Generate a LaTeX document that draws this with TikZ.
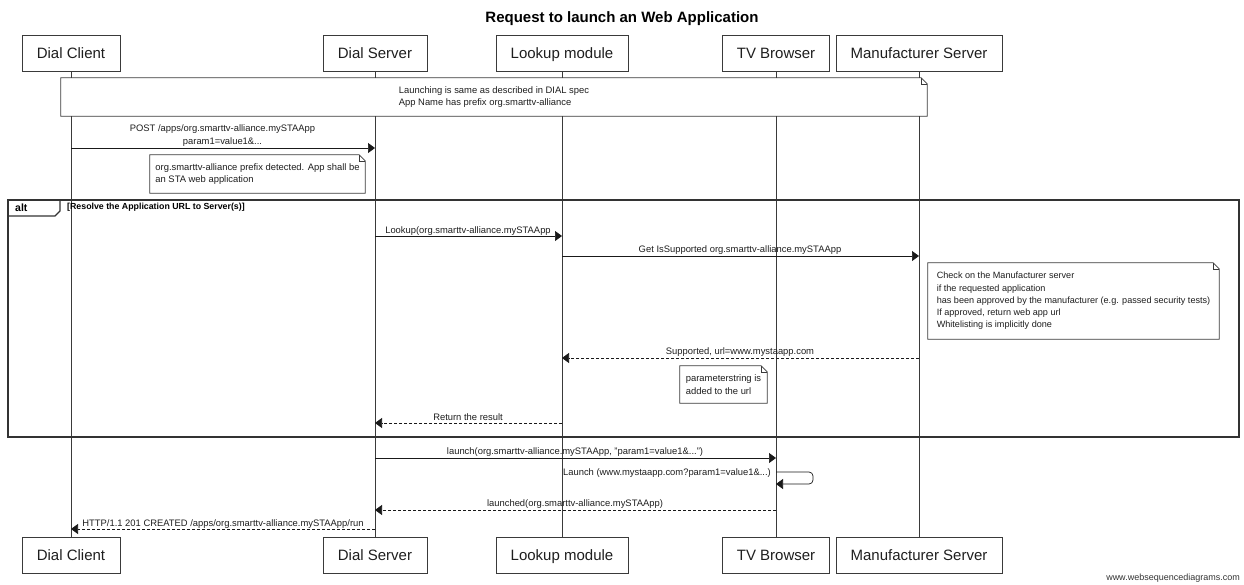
\documentclass[tikz,border=0pt]{standalone}
\usepackage{fontspec}
\setmainfont{Liberation Sans}
\usetikzlibrary{arrows.meta,calc}
\definecolor{ln}{HTML}{3A3A3A}
\definecolor{tx}{HTML}{1E1E1E}
\tikzset{
  actor/.style={draw=ln, line width=0.9pt, minimum height=36pt, inner sep=0pt,
    text height=13.5pt, text depth=2pt,
    font=\fontsize{15}{17}\selectfont, text=tx},
  life/.style={draw=ln, line width=0.8pt},
  msg/.style={draw=black!90, line width=0.7pt, -{Triangle[length=7pt,width=10pt]}},
  reply/.style={msg, dash pattern=on 3pt off 2pt},
  lbl/.style={font=\fontsize{9.4}{10}\selectfont, inner sep=0pt, text=tx},
  notebox/.style={fill=white, inner sep=0pt, align=left,
    font=\fontsize{9.4}{12.6}\selectfont, text=tx},
  noteline/.style={draw=ln, line width=0.8pt},
  frameline/.style={draw=black!80, line width=1.6pt},
  titlestyle/.style={font=\bfseries\fontsize{15}{17}\selectfont, text=black},
}
\newcommand\drawnote[1]{%
  \draw[noteline] (#1.south west) -- (#1.south east) -- ($(#1.north east)+(0,6)$)
    -- ($(#1.north east)+(-6,0)$) -- (#1.north west) -- cycle;
  \draw[draw=ln, line width=0.6pt] ($(#1.north east)+(-6,0)$) -- ($(#1.north east)+(-6,6)$) -- ($(#1.north east)+(0,6)$);}
\begin{document}
\begin{tikzpicture}[x=1pt,y=-1pt]
\useasboundingbox (0,0) rectangle (1244,584);
\node[titlestyle] (title) at (622,19) {Request to launch an Web Application};
% actors top
\node[actor, minimum width=98pt] (dcT) at (71,53) {Dial Client};
\node[actor, minimum width=104pt] (dsT) at (375,53) {Dial Server};
\node[actor, minimum width=132pt] (lmT) at (562,53) {Lookup module};
\node[actor, minimum width=107pt] (tvT) at (776,53) {TV Browser};
\node[actor, minimum width=166pt] (msT) at (919,53) {Manufacturer Server};
% actors bottom
\node[actor, minimum width=98pt] (dcB) at (71,555) {Dial Client};
\node[actor, minimum width=104pt] (dsB) at (375,555) {Dial Server};
\node[actor, minimum width=132pt] (lmB) at (562,555) {Lookup module};
\node[actor, minimum width=107pt] (tvB) at (776,555) {TV Browser};
\node[actor, minimum width=166pt] (msB) at (919,555) {Manufacturer Server};
% lifelines
\foreach \a in {dc,ds,lm,tv,ms}{\draw[life] (\a T.south) -- (\a B.north);}
% note 1
\node[notebox, minimum width=866pt, minimum height=38pt] (n1) at (494,97)
  {Launching is same as described in DIAL spec\\App Name has prefix org.smarttv-alliance};
\drawnote{n1}
% POST
\coordinate (p1a) at (dcT.south |- 0,148);
\coordinate (p1b) at (dsT.south |- 0,148);
\draw[msg] (p1a) -- (p1b);
\node[lbl, align=center, font=\fontsize{9.4}{12.7}\selectfont] (l1) at (222.5,135.5) {POST /apps/org.smarttv-alliance.mySTAApp\\param1=value1\&...};
% note 2
\node[notebox, minimum width=215pt, minimum height=38pt] (n2) at (257.5,174)
  {org.smarttv-alliance prefix detected. App shall be\\an STA web application};
\drawnote{n2}
% alt frame
\coordinate (fa) at (8,200);
\coordinate (fb) at (1239,437);
\draw[frameline] (fa) rectangle (fb);
\draw[draw=black!80, line width=1.2pt] (fa) -- (60,200) -- (60,211) -- (55,216) -- (8,216);
\node[font=\bfseries\fontsize{10.5}{12}\selectfont, inner sep=0pt, anchor=west] (alt) at (15,208) {alt};
\node[font=\bfseries\fontsize{8.8}{10}\selectfont, inner sep=0pt, anchor=west] (guard) at (67,207) {[Resolve the Application URL to Server(s)]};
% Lookup
\coordinate (p2a) at (dsT.south |- 0,236);
\coordinate (p2b) at (lmT.south |- 0,236);
\draw[msg] (p2a) -- (p2b);
\node[lbl] (l2) at (468,231) {Lookup(org.smarttv-alliance.mySTAApp};
% Get IsSupported
\coordinate (p3a) at (lmT.south |- 0,256);
\coordinate (p3b) at (msT.south |- 0,256);
\draw[msg] (p3a) -- (p3b);
\node[lbl] (l3) at (740,250) {Get IsSupported org.smarttv-alliance.mySTAApp};
% big note
\node[notebox, minimum width=291pt, minimum height=76pt, font=\fontsize{9.1}{12.3}\selectfont] (n3) at (1073.5,301)
  {Check on the Manufacturer server\\if the requested application\\has been approved by the manufacturer (e.g. passed security tests)\\If approved, return web app url\\Whitelisting is implicitly done};
\drawnote{n3}
% Supported
\coordinate (p4a) at (msT.south |- 0,358);
\coordinate (p4b) at (lmT.south |- 0,358);
\draw[reply] (p4a) -- (p4b);
\node[lbl] (l4) at (740,352) {Supported, url=www.mystaapp.com};
% param note
\node[notebox, minimum width=87pt, minimum height=37pt] (n4) at (723.5,384.5)
  {parameterstring is\\added to the url};
\drawnote{n4}
% Return
\coordinate (p5a) at (lmT.south |- 0,423);
\coordinate (p5b) at (dsT.south |- 0,423);
\draw[reply] (p5a) -- (p5b);
\node[lbl] (l5) at (468,417) {Return the result};
% launch
\coordinate (p6a) at (dsT.south |- 0,458);
\coordinate (p6b) at (tvT.south |- 0,458);
\draw[msg] (p6a) -- (p6b);
\node[lbl] (l6) at (575,452) {launch(org.smarttv-alliance.mySTAApp, "param1=value1\&...")};
% self
\coordinate (p7a) at (tvT.south |- 0,472);
\coordinate (p7b) at (tvT.south |- 0,484);
\coordinate (p7c) at (813,472);
\coordinate (p7d) at (813,484);
\draw[msg, rounded corners=4pt] (p7a) -- (p7c) -- (p7d) -- (p7b);
\node[lbl, anchor=east] (l7) at (771,473) {Launch (www.mystaapp.com?param1=value1\&...)};
% launched
\coordinate (p8a) at (tvT.south |- 0,510);
\coordinate (p8b) at (dsT.south |- 0,510);
\draw[reply] (p8a) -- (p8b);
\node[lbl] (l8) at (575,504) {launched(org.smarttv-alliance.mySTAApp)};
% HTTP
\coordinate (p9a) at (dsT.south |- 0,529);
\coordinate (p9b) at (dcT.south |- 0,529);
\draw[reply] (p9a) -- (p9b);
\node[lbl] (l9) at (223,524) {HTTP/1.1 201 CREATED /apps/org.smarttv-alliance.mySTAApp/run};
% watermark
\node[font=\fontsize{9}{10}\selectfont, inner sep=0pt, anchor=south east, text=black!80] (wm) at (1240,582.5) {www.websequencediagrams.com};
\end{tikzpicture}
\end{document}
